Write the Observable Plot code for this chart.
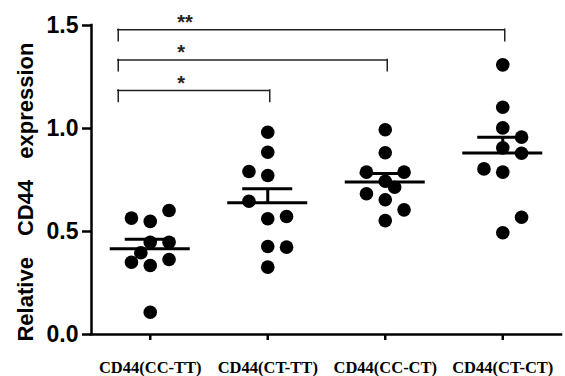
<!DOCTYPE html>
<html>
<head>
<meta charset="utf-8">
<script src="https://cdn.jsdelivr.net/npm/d3@7"></script>
<script src="https://cdn.jsdelivr.net/npm/@observablehq/plot@0.6"></script>
<style>
html, body { margin: 0; padding: 0; background: #fff; }
</style>
</head>
<body>
<div id="chart"></div>
<script>
// ---- data ----
const groups = ["CD44(CC-TT)", "CD44(CT-TT)", "CD44(CC-CT)", "CD44(CT-CT)"];
const ccTT = [0.549, 0.448, 0.335, 0.108, 0.602, 0.565, 0.448, 0.351, 0.364, 0.397];
const ctTT = [0.982, 0.885, 0.772, 0.562, 0.427, 0.327, 0.573, 0.791, 0.424, 0.647];
const ccCT = [0.994, 0.882, 0.744, 0.654, 0.553, 0.788, 0.788, 0.605, 0.683, 0.715];
const ctCT = [1.309, 1.103, 1.003, 0.906, 0.788, 0.494, 0.958, 0.804, 0.569, 0.880];
const yTicks = [0, 0.5, 1.0, 1.5];
const yLabel = "Relative CD44 expression";
const cmpFrom = ["CD44(CC-TT)", "CD44(CC-TT)", "CD44(CC-TT)"];
const cmpTo = ["CD44(CT-TT)", "CD44(CC-CT)", "CD44(CT-CT)"];
const cmpLevel = [1.184, 1.333, 1.479];
const cmpLabel = ["*", "*", "**"];

// ---- layout helpers (column-scatter spreading, like the original software) ----
const SLOT = 0.16, GAP_CENTER = 0.088, GAP_SIDE = 0.077, DROP = 0.055;
function spread(values) {
  const placed = [];
  let pref = 1;
  for (const v of values) {
    const conflict = (s, g) => placed.some(p => p.s === s && Math.abs(p.v - v) < g);
    let s = 0;
    if (conflict(0, GAP_CENTER)) {
      const order = [pref, -pref, pref / 2, -pref / 2, 2 * pref, -2 * pref];
      s = order.find(c => !conflict(c, GAP_SIDE));
      if (s === undefined) s = 0;
      pref = s > 0 ? -1 : 1;
    }
    placed.push({v, s});
  }
  return placed;
}

const series = [ccTT, ctTT, ccCT, ctCT];
const points = [];
series.forEach((vals, gi) => spread(vals).forEach(p => points.push({gi, value: p.v, slot: p.s})));
const stats = series.map((vals, gi) => {
  const m = d3.mean(vals);
  const sem = d3.deviation(vals) / Math.sqrt(vals.length);
  return {gi, mean: m, top: m + sem};
});
const brackets = cmpFrom.map((f, k) => ({
  a: groups.indexOf(f), b: groups.indexOf(cmpTo[k]), y: cmpLevel[k], label: cmpLabel[k]
}));

const xDomain = [-0.5, groups.length - 0.5];
const sans = "'Liberation Sans', Arial, sans-serif";
const serif = "'Liberation Serif', 'Times New Roman', serif";

const plot = Plot.plot({
  width: 565,
  height: 376,
  marginLeft: 91,
  marginRight: 4,
  marginTop: 25,
  marginBottom: 42,
  style: {background: "white", color: "black", overflow: "visible"},
  x: {domain: xDomain},
  y: {domain: [0, 1.5]},
  marks: [
    Plot.axisX(d3.range(groups.length), {
      tickFormat: i => groups[i], tickSize: 6, tickPadding: 21, strokeWidth: 2.5,
      fontSize: 16.5, fontFamily: serif, fontWeight: "bold", label: null
    }),
    Plot.axisY(yTicks, {
      tickFormat: d3.format(".1f"), tickSize: 9, tickPadding: 4, strokeWidth: 2.5,
      fontSize: 23, fontFamily: sans, fontWeight: "bold", label: null
    }),
    Plot.ruleY([0], {strokeWidth: 2.5, strokeLinecap: "square"}),
    Plot.ruleX([xDomain[0]], {strokeWidth: 2.5, strokeLinecap: "square"}),
    // points
    Plot.dot(points, {x: d => d.gi + d.slot * SLOT, y: "value", r: 6.8, fill: "black", stroke: "none"}),
    // mean and SEM
    Plot.ruleY(stats, {x1: "gi", x2: "gi", y: "mean", insetLeft: -40, insetRight: -40, strokeWidth: 3}),
    Plot.ruleY(stats, {x1: "gi", x2: "gi", y: "top", insetLeft: -25, insetRight: -25, strokeWidth: 3}),
    Plot.ruleX(stats, {x: "gi", y1: "mean", y2: "top", strokeWidth: 3}),
    // significance brackets
    Plot.ruleY(brackets, {x1: "a", x2: "b", y: "y", insetLeft: -32, insetRight: -2, strokeWidth: 1.5, stroke: "#222", strokeLinecap: "square"}),
    Plot.ruleX(brackets, {x: "a", y1: "y", y2: d => d.y - DROP, dx: -32, strokeWidth: 1.5, stroke: "#222", strokeLinecap: "square"}),
    Plot.ruleX(brackets, {x: "b", y1: "y", y2: d => d.y - DROP, dx: 2, strokeWidth: 1.5, stroke: "#222", strokeLinecap: "square"}),
    Plot.text(brackets, {
      x: "a", y: "y", text: "label", dx: 27, dy: -1, textAnchor: "start", lineAnchor: "bottom",
      fontSize: 20, fontWeight: "bold", fontFamily: sans, fill: "#222"
    }),
    // y axis title
    Plot.text([yLabel], {
      text: d => d, frameAnchor: "left", textAnchor: "middle", rotate: -90, dx: -66, dy: 12,
      fontSize: 22, fontWeight: "bold", fontFamily: sans, fill: "black"
    })
  ]
});

plot.querySelectorAll("text").forEach(t => {
  if (t.textContent === yLabel) t.style.wordSpacing = "15px";
});
document.getElementById("chart").appendChild(plot);
</script>
</body>
</html>
